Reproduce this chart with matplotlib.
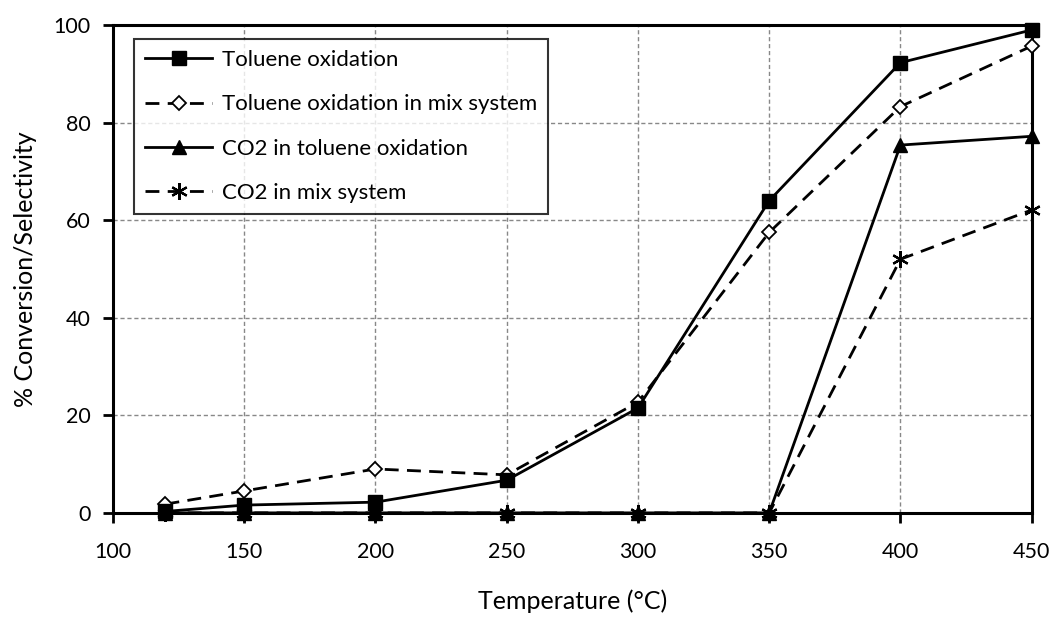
import matplotlib
matplotlib.use("Agg")
import matplotlib.pyplot as plt

plt.rcParams['font.family'] = ['Lato', 'DejaVu Sans']

# data
temps = [120, 150, 200, 250, 300, 350, 400, 450]
toluene = [0.3, 1.6, 2.2, 6.7, 21.5, 64.0, 92.3, 99.0]
toluene_mix = [1.8, 4.5, 9.0, 7.8, 22.7, 57.5, 83.3, 95.7]
co2_toluene = [0, 0, 0, 0, 0, 0, 75.4, 77.2]
co2_mix = [0, 0, 0, 0, 0, 0, 52.0, 62.1]

labels = ['Toluene oxidation', 'Toluene oxidation in mix system',
          'CO2 in toluene oxidation', 'CO2 in mix system']

fig = plt.figure(figsize=(10.56, 6.27), dpi=100)
ax = fig.add_axes([0.107, 0.182, 0.870, 0.778])

lw = 2.0
dash = (0, (5, 3))
ax.plot(temps, toluene, color='black', lw=lw, marker='s', markersize=10,
        label=labels[0], zorder=5, clip_on=False)
ax.plot(temps, toluene_mix, color='black', lw=lw, linestyle=dash, marker='D',
        markersize=7.5, markerfacecolor='white', markeredgewidth=1.3,
        label=labels[1], zorder=4, clip_on=False)
ax.plot(temps, co2_toluene, color='black', lw=lw, marker='^', markersize=10,
        label=labels[2], zorder=5, clip_on=False)
ax.plot(temps, co2_mix, color='black', lw=lw, linestyle=dash, marker=(6, 2, 0),
        markersize=12, markeredgewidth=1.6, label=labels[3], zorder=4,
        clip_on=False)

ax.set_xlim(100, 450)
ax.set_ylim(0, 100)
ax.set_xticks(range(100, 451, 50))
ax.set_yticks(range(0, 101, 20))
ax.grid(True, color='#888888', linestyle=(0, (3, 2)), linewidth=1.0)
ax.set_axisbelow(True)

for s in ax.spines.values():
    s.set_linewidth(2.2)
    s.set_color('black')
ax.spines['bottom'].set_zorder(6)

ax.tick_params(axis='both', direction='out', length=7, width=2, labelsize=15.5)
ax.tick_params(axis='x', pad=14)
ax.tick_params(axis='y', pad=9)

ax.set_xlabel('Temperature (°C)', fontsize=18, labelpad=20)
ax.set_ylabel('% Conversion/Selectivity', fontsize=18, labelpad=12)

leg = ax.legend(loc='upper left', bbox_to_anchor=(0.023, 0.972), fontsize=16,
                frameon=True, fancybox=False, edgecolor='black',
                handlelength=3.0, handletextpad=0.45, labelspacing=1.1,
                borderpad=0.5, borderaxespad=0)
leg.get_frame().set_linewidth(1.5)
leg.set_zorder(10)

fig.savefig('out.png', dpi=100)
